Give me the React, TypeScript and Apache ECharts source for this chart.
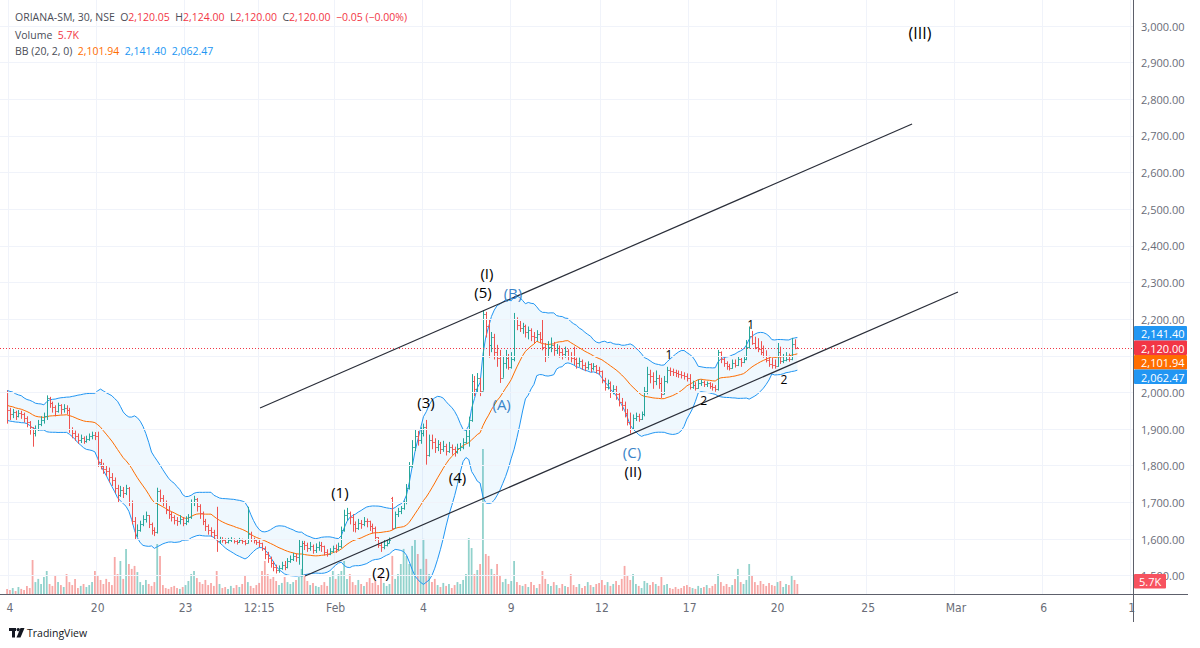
import { useEffect, useRef } from "react";
import * as echarts from "echarts";

// ---------- data ----------
const preCloses = [1990, 1978, 1995, 1982, 1975, 1992, 1985, 1980, 1988, 1978, 1950, 1940, 1955, 1945, 1935, 1948, 1942, 1950, 1938];

const closes = [
  1952, 1940, 1948, 1935, 1945, 1940, 1930, 1920, 1905, 1890,
  1900, 1915, 1925, 1935, 1985, 1970, 1960, 1950, 1965, 1955,
  1958, 1952, 1900, 1890, 1880, 1870, 1875, 1868, 1872, 1880,
  1885, 1880, 1810, 1800, 1790, 1785, 1770, 1760, 1740, 1720,
  1735, 1725, 1740, 1700, 1650, 1610, 1625, 1640, 1655, 1665,
  1640, 1625, 1618, 1730, 1712, 1700, 1680, 1668, 1660, 1652,
  1648, 1655, 1645, 1650, 1660, 1700, 1710, 1690, 1670, 1650,
  1635, 1625, 1618, 1610, 1595, 1600, 1598, 1592, 1596, 1600,
  1595, 1592, 1597, 1594, 1590, 1615, 1600, 1596, 1592, 1588,
  1575, 1560, 1548, 1535, 1525, 1515, 1520, 1530, 1525, 1540,
  1545, 1555, 1550, 1580, 1590, 1585, 1575, 1580, 1570, 1578,
  1585, 1580, 1565, 1560, 1568, 1575, 1572, 1580, 1625, 1665,
  1670, 1660, 1640, 1630, 1645, 1640, 1650, 1648, 1635, 1630,
  1605, 1585, 1578, 1585, 1590, 1598, 1630, 1668, 1676, 1685,
  1700, 1740, 1800, 1850, 1880, 1870, 1890, 1905, 1830, 1870,
  1865, 1850, 1860, 1845, 1855, 1840, 1850, 1845, 1838, 1848,
  1850, 1865, 1880, 1925, 2030, 2010, 2040, 2005, 2215, 2180,
  2130, 2150, 2110, 2095, 2040, 2080, 2095, 2070, 2090, 2200,
  2185, 2175, 2180, 2165, 2170, 2155, 2150, 2160, 2145, 2125,
  2100, 2125, 2130, 2115, 2120, 2110, 2105, 2112, 2100, 2095,
  2090, 2080, 2085, 2075, 2070, 2078, 2068, 2072, 2062, 2058,
  2035, 2015, 2025, 2000, 2010, 1995, 1975, 1965, 1945, 1920,
  1900, 1930, 1935, 1928, 1940, 2005, 2050, 2045, 2030, 2040,
  2025, 1995, 2030, 2060, 2058, 2055, 2052, 2050, 2048, 2045,
  2040, 2015, 2020, 2012, 2025, 2028, 2022, 2025, 2018, 2015,
  2010, 2110, 2090, 2080, 2072, 2068, 2080, 2075, 2090, 2082,
  2090, 2125, 2155, 2135, 2125, 2118, 2110, 2100, 2088, 2078,
  2075, 2072, 2110, 2085, 2088, 2092, 2090, 2132, 2120.05, 2120,
];

const highs = [
  2005, 1958, 1955, 1950, 1952, 1950, 1945, 1935, 1922, 1905,
  1910, 1925, 1935, 1945, 1992, 1988, 1975, 1965, 1972, 1968,
  1968, 1965, 1958, 1905, 1896, 1888, 1885, 1880, 1882, 1888,
  1893, 1892, 1893, 1818, 1808, 1800, 1795, 1780, 1768, 1748,
  1745, 1742, 1748, 1742, 1705, 1660, 1640, 1650, 1665, 1675,
  1662, 1645, 1632, 1740, 1735, 1720, 1705, 1690, 1675, 1665,
  1660, 1665, 1660, 1662, 1668, 1708, 1718, 1712, 1695, 1675,
  1655, 1640, 1632, 1625, 1688, 1606, 1605, 1602, 1603, 1605,
  1602, 1600, 1603, 1601, 1598, 1688, 1620, 1604, 1600, 1597,
  1590, 1580, 1565, 1552, 1540, 1530, 1528, 1538, 1540, 1548,
  1555, 1562, 1560, 1598, 1595, 1595, 1590, 1592, 1585, 1588,
  1593, 1592, 1582, 1572, 1575, 1582, 1585, 1590, 1634, 1680,
  1685, 1675, 1668, 1648, 1655, 1652, 1660, 1656, 1650, 1642,
  1634, 1600, 1592, 1598, 1600, 1604, 1715, 1675, 1685, 1690,
  1705, 1750, 1810, 1870, 1898, 1895, 1905, 1915, 1925, 1885,
  1885, 1875, 1870, 1865, 1868, 1860, 1865, 1858, 1852, 1860,
  1862, 1875, 1898, 1934, 2050, 2045, 2053, 2030, 2225, 2220,
  2200, 2165, 2160, 2130, 2116, 2100, 2116, 2105, 2110, 2217,
  2205, 2195, 2190, 2185, 2180, 2175, 2165, 2170, 2165, 2200,
  2135, 2140, 2150, 2138, 2132, 2128, 2120, 2125, 2118, 2110,
  2125, 2095, 2095, 2090, 2082, 2085, 2080, 2080, 2075, 2070,
  2060, 2040, 2035, 2030, 2020, 2018, 2000, 1985, 1975, 1955,
  1945, 1940, 1945, 1942, 1948, 2015, 2070, 2062, 2055, 2060,
  2048, 2040, 2045, 2070, 2068, 2065, 2062, 2060, 2058, 2055,
  2052, 2050, 2032, 2028, 2035, 2035, 2032, 2030, 2028, 2025,
  2020, 2116, 2112, 2095, 2085, 2078, 2090, 2090, 2097, 2094,
  2100, 2143, 2180, 2168, 2152, 2148, 2140, 2128, 2115, 2100,
  2095, 2090, 2135, 2125, 2105, 2110, 2106, 2149, 2145, 2124,
];

const lows = [
  1915, 1925, 1930, 1925, 1932, 1928, 1918, 1905, 1885, 1852,
  1880, 1895, 1908, 1915, 1925, 1958, 1945, 1935, 1945, 1940,
  1945, 1940, 1890, 1875, 1868, 1860, 1862, 1860, 1863, 1868,
  1872, 1870, 1797, 1790, 1778, 1772, 1755, 1745, 1725, 1700,
  1715, 1712, 1720, 1690, 1640, 1598, 1605, 1620, 1635, 1645,
  1630, 1612, 1608, 1615, 1700, 1690, 1668, 1655, 1648, 1640,
  1636, 1640, 1635, 1638, 1645, 1655, 1690, 1675, 1655, 1638,
  1622, 1612, 1606, 1600, 1565, 1588, 1590, 1586, 1588, 1592,
  1588, 1585, 1590, 1587, 1583, 1588, 1592, 1588, 1584, 1578,
  1568, 1545, 1535, 1522, 1512, 1506, 1508, 1516, 1515, 1520,
  1535, 1540, 1538, 1530, 1498, 1570, 1565, 1568, 1560, 1562,
  1568, 1565, 1555, 1552, 1556, 1562, 1562, 1568, 1575, 1620,
  1650, 1640, 1620, 1618, 1625, 1628, 1635, 1632, 1622, 1615,
  1595, 1576, 1565, 1572, 1580, 1588, 1625, 1630, 1660, 1668,
  1680, 1695, 1735, 1795, 1840, 1855, 1860, 1880, 1803, 1825,
  1845, 1835, 1840, 1832, 1838, 1828, 1835, 1830, 1825, 1833,
  1840, 1845, 1860, 1852, 1920, 1990, 2000, 1990, 2005, 2150,
  2095, 2110, 2090, 2070, 2026, 2040, 2065, 2062, 2065, 2085,
  2170, 2165, 2160, 2150, 2145, 2140, 2135, 2140, 2135, 2115,
  2083, 2095, 2110, 2100, 2105, 2095, 2090, 2095, 2088, 2082,
  2075, 2065, 2070, 2062, 2058, 2062, 2055, 2060, 2052, 2048,
  2025, 2005, 2008, 1985, 1995, 1980, 1962, 1950, 1932, 1910,
  1888, 1915, 1922, 1920, 1925, 1935, 1995, 2025, 2010, 2020,
  2010, 1985, 1995, 2025, 2045, 2045, 2042, 2040, 2038, 2035,
  2030, 2008, 2010, 2005, 2010, 2018, 2015, 2015, 2010, 2005,
  2002, 2005, 2080, 2070, 2062, 2060, 2065, 2068, 2072, 2070,
  2080, 2088, 2120, 2130, 2118, 2110, 2102, 2095, 2082, 2070,
  2065, 2065, 2070, 2078, 2080, 2085, 2084, 2088, 2118, 2120,
];

// bars whose open differs from the previous close (gaps)
const gapOpenIndex = [0, 136];
const gapOpenValue = [2000, 1712];

// volume in thousands
const volumesK = [
  2.9, 2.3, 3.4, 1.7, 4.0, 2.9, 2.3, 4.6, 3.4, 19.4,
  6.8, 8.6, 5.7, 9.7, 13.1, 5.7, 4.6, 10.3, 6.8, 5.1,
  4.0, 11.4, 6.8, 5.1, 8.6, 3.4, 4.6, 5.7, 4.0, 5.1,
  6.8, 13.1, 10.3, 8.0, 5.7, 8.6, 6.8, 5.1, 21.1, 11.4,
  18.8, 8.6, 25.7, 17.1, 14.3, 16.0, 12.5, 6.8, 5.1, 8.0,
  5.7, 4.6, 6.8, 28.5, 21.7, 5.1, 3.4, 2.9, 4.0, 4.6,
  3.4, 2.9, 4.0, 5.1, 7.4, 11.4, 13.1, 9.1, 6.8, 5.7,
  8.0, 5.1, 6.3, 4.6, 13.1, 5.7, 3.4, 4.0, 2.9, 4.6,
  3.4, 5.1, 4.0, 5.7, 10.8, 6.8, 4.6, 3.4, 5.1, 6.3,
  13.1, 18.8, 11.4, 8.6, 9.7, 7.4, 5.1, 6.3, 9.7, 6.8,
  5.7, 6.8, 8.0, 9.7, 14.3, 11.4, 7.4, 5.1, 6.3, 4.6,
  4.0, 5.1, 6.8, 4.6, 9.7, 13.1, 8.6, 11.4, 13.1, 18.8,
  8.6, 11.4, 6.8, 5.1, 8.0, 5.7, 4.6, 6.8, 9.1, 6.3,
  7.4, 5.1, 10.3, 6.3, 4.6, 5.7, 21.7, 8.6, 11.4, 17.1,
  25.7, 21.7, 17.1, 27.4, 31.4, 22.8, 14.3, 31.4, 20.0, 11.4,
  6.8, 8.6, 5.1, 4.0, 6.3, 4.6, 5.7, 3.4, 5.1, 6.8,
  5.7, 8.0, 11.4, 31.9, 26.2, 11.4, 13.7, 17.1, 82.7, 22.8,
  21.7, 14.3, 11.4, 17.1, 10.3, 6.8, 8.6, 5.7, 7.4, 18.8,
  6.8, 5.1, 4.6, 5.7, 4.0, 6.8, 5.1, 3.4, 5.7, 13.1,
  8.6, 5.7, 4.6, 6.8, 5.1, 3.4, 5.7, 4.6, 4.0, 11.4,
  5.1, 4.0, 5.7, 3.4, 4.6, 6.8, 5.1, 4.0, 5.7, 6.3,
  8.0, 5.1, 6.8, 4.6, 5.7, 7.4, 5.1, 8.6, 16.0, 10.3,
  8.0, 11.4, 5.7, 4.6, 3.4, 7.4, 6.3, 5.1, 6.8, 5.7,
  4.6, 9.7, 5.1, 5.7, 3.4, 2.9, 4.0, 2.9, 3.4, 4.6,
  5.1, 4.0, 3.4, 2.9, 4.6, 3.4, 4.0, 5.1, 3.4, 4.6,
  5.7, 11.4, 6.8, 4.6, 5.7, 4.0, 5.1, 8.6, 14.3, 6.8,
  5.7, 8.0, 17.1, 10.3, 6.8, 5.1, 7.4, 5.7, 4.6, 6.3,
  5.1, 4.6, 6.8, 7.4, 4.0, 5.7, 5.1, 10.3, 8.0, 5.7,
];

// time scale
const slotCount = 400;
const firstSlot = 2;
const tickSlots = [3, 34, 65, 91, 118, 149, 180, 212, 243, 274, 306, 337, 368, 399];
const tickLabels = ["4", "20", "23", "12:15", "Feb", "4", "9", "12", "17", "20", "25", "Mar", "6", "1"];

// price scale (2,100 sits under the price badges, as in the reference)
const priceTicks = [1500, 1600, 1700, 1800, 1900, 2000, 2100, 2200, 2300, 2400, 2500, 2600, 2700, 2800, 2900, 3000];
const hiddenPriceLabels = [2100];

// legend values
const symbolText = "ORIANA-SM, 30, NSE";
const ohlcText = ["2,120.05", "2,124.00", "2,120.00", "2,120.00"];
const changeText = "\u22120.05 (\u22120.00%)";
const bbParams = "BB (20, 2, 0)";
const bbLegend = ["2,101.94", "2,141.40", "2,062.47"];
const lastPriceText = "2,120.00";
const lastPrice = 2120;

// drawn annotations (slot, price)
const channelUpper = [[91.3, 1957.6], [321.5, 2732.6]];
const channelLower = [[107.2, 1499.1], [337.7, 2274.1]];

const waveText = ["(I)", "(5)", "(B)", "(3)", "(A)", "(4)", "(1)", "(2)", "(C)", "(II)", "(III)", "1", "1", "2", "2"];
const waveSlot = [171.4, 170.0, 180.6, 149.9, 176.6, 161.0, 119.5, 134.0, 222.6, 223.0, 324.3, 235.7, 264.5, 247.9, 276.3];
const wavePrice = [2326, 2274, 2271, 1974, 1968.5, 1769, 1729.7, 1508.7, 1837.5, 1785.7, 2980.9, 2104.9, 2185.4, 1976.7, 2036.7];
const waveKind = ["major", "major", "blue", "major", "blue", "major", "major", "major", "blue", "major", "major", "minor", "minor", "minor", "minor"];

// ---------- derived ----------
const GREEN = "#26a69a";
const RED = "#ef5350";

const opens = closes.map((c, i) => {
  const g = gapOpenIndex.indexOf(i);
  if (g >= 0) return gapOpenValue[g];
  return i === 0 ? c : closes[i - 1];
});

const ohlc = closes.map((c, i) => {
  const o = opens[i];
  const h = Math.max(highs[i], o, c);
  const l = Math.min(lows[i], o, c);
  return [i + firstSlot, o, h, l, c];
});

const fullCloses = preCloses.concat(closes);
const bbMid: number[][] = [];
const bbUp: number[][] = [];
const bbLo: number[][] = [];
closes.forEach((_, i) => {
  const w = fullCloses.slice(i, i + 20);
  const m = w.reduce((a, b) => a + b, 0) / w.length;
  const sd = Math.sqrt(w.reduce((a, b) => a + (b - m) * (b - m), 0) / w.length);
  const x = i + firstSlot;
  bbMid.push([x, m]);
  bbUp.push([x, m + 2 * sd]);
  bbLo.push([x, m - 2 * sd]);
});

const volumeData = volumesK.map((v, i) => ({
  value: [i + firstSlot, v],
  itemStyle: { color: closes[i] >= opens[i] ? "rgba(38,166,154,0.5)" : "rgba(239,83,80,0.5)" },
}));

const xCats = Array.from({ length: slotCount }, (_, i) => {
  const t = tickSlots.indexOf(i);
  return t >= 0 ? tickLabels[t] : "";
});

const FONT = '"Open Sans", "Noto Sans", sans-serif';
const NARROW = '"Liberation Sans Narrow", "DejaVu Sans Condensed", "Roboto Condensed", sans-serif';

const waveColor: Record<string, string> = { major: "#000000", blue: "#3a84c8", minor: "#000000" };
const waveSize: Record<string, number> = { major: 15, blue: 15, minor: 12 };

const waveData = waveText.map((t, i) => ({
  value: [waveSlot[i], wavePrice[i]],
  name: t,
  label: {
    show: true,
    position: "inside",
    formatter: t,
    color: waveColor[waveKind[i]],
    opacity: 1,
    textBorderWidth: 0,
    textBorderColor: "transparent",
    fontSize: t === "(III)" ? 16 : waveSize[waveKind[i]],
    fontFamily: FONT,
  },
}));

function buildOption() {
  const GRID_BOTTOM = 54;
  const badgeColors = ["#2196f3", "#f23645", "#ff6d00", "#2196f3"];
  const badgeTexts = [bbLegend[1], lastPriceText, bbLegend[0], bbLegend[2]];
  const badgeTops = [326, 340.5, 355, 369.5];
  const badges: any[] = [];
  badgeTexts.forEach((t, i) => {
    badges.push({
      type: "rect",
      shape: { x: 1134, y: badgeTops[i], width: 53, height: 14.5, r: 1 },
      style: { fill: badgeColors[i] },
      z: 100,
    });
    badges.push({
      type: "text",
      x: 1141,
      y: badgeTops[i] + 7.5,
      style: { text: t, fill: "#ffffff", font: `11px ${FONT}`, verticalAlign: "middle", align: "left" },
      z: 101,
    });
  });
  const volLabel = `${volumesK[volumesK.length - 1]}K`;
  const FS = 10.5;
  const rich = {
    g: { fill: "#4a4d57", fontSize: FS, fontFamily: FONT },
    r: { fill: "#f23645", fontSize: FS, fontFamily: FONT },
    o: { fill: "#ff6d00", fontSize: FS, fontFamily: FONT },
    b: { fill: "#2196f3", fontSize: FS, fontFamily: FONT },
  };

  return {
    animation: false,
    backgroundColor: "#ffffff",
    grid: { left: 0, right: 67, top: 0, bottom: GRID_BOTTOM, containLabel: false },
    xAxis: [
      {
        type: "category",
        data: xCats,
        boundaryGap: true,
        axisLine: { show: false },
        axisTick: { show: false },
        axisLabel: {
          interval: (_i: number, v: string) => v !== "",
          color: "#6a6d78",
          fontSize: 12,
          fontFamily: NARROW,
          margin: 8,
        },
        splitLine: {
          show: true,
          interval: (_i: number, v: string) => v !== "",
          lineStyle: { color: "#f0f3fa", width: 1 },
        },
      },
      { type: "value", min: -0.5, max: slotCount - 0.5, show: false },
    ],
    yAxis: [
      {
        type: "value",
        position: "right",
        min: 1450,
        max: 3071,
        interval: 50,
        axisLine: { show: false },
        axisTick: { show: false },
        splitLine: { show: false },
        axisLabel: {
          color: "#6a6d78",
          fontSize: 11,
          fontFamily: FONT,
          margin: 8,
          formatter: (v: number) =>
            priceTicks.indexOf(v) >= 0 && hiddenPriceLabels.indexOf(v) < 0
              ? v.toLocaleString("en-US", { minimumFractionDigits: 2, maximumFractionDigits: 2 })
              : "",
        },
      },
      { type: "value", min: 0, max: 594 * 0.57, show: false },
    ],
    series: [
      {
        type: "line",
        xAxisIndex: 1,
        yAxisIndex: 0,
        data: [],
        silent: true,
        z: 0,
        markLine: {
          silent: true,
          symbol: ["none", "none"],
          label: { show: false },
          lineStyle: { color: "#f0f3fa", type: "solid", width: 1 },
          data: priceTicks.map((p) => ({ yAxis: p })),
        },
      },
      {
        type: "bar",
        xAxisIndex: 1,
        yAxisIndex: 1,
        barWidth: 1.8,
        data: volumeData,
        silent: true,
        z: 1,
      },
      {
        type: "custom",
        xAxisIndex: 1,
        yAxisIndex: 0,
        silent: true,
        z: 2,
        data: [[bbUp[0][0], bbUp[0][1]]],
        renderItem: (_p: any, api: any) => {
          const pts: number[][] = [];
          bbUp.forEach((d) => pts.push(api.coord(d)));
          for (let i = bbLo.length - 1; i >= 0; i--) pts.push(api.coord(bbLo[i]));
          return { type: "polygon", shape: { points: pts }, style: { fill: "rgba(33,150,243,0.07)" } };
        },
      },
      {
        type: "line",
        xAxisIndex: 1,
        yAxisIndex: 0,
        data: bbUp,
        symbol: "none",
        silent: true,
        z: 3,
        lineStyle: { color: "#2196f3", width: 1 },
      },
      {
        type: "line",
        xAxisIndex: 1,
        yAxisIndex: 0,
        data: bbLo,
        symbol: "none",
        silent: true,
        z: 3,
        lineStyle: { color: "#2196f3", width: 1 },
      },
      {
        type: "line",
        xAxisIndex: 1,
        yAxisIndex: 0,
        data: bbMid,
        symbol: "none",
        silent: true,
        z: 3,
        lineStyle: { color: "#ff6d00", width: 1 },
      },
      {
        type: "custom",
        xAxisIndex: 1,
        yAxisIndex: 0,
        silent: true,
        z: 4,
        data: ohlc,
        encode: { x: 0, y: [1, 2, 3, 4] },
        renderItem: (_p: any, api: any) => {
          const x = api.value(0);
          const o = api.value(1);
          const h = api.value(2);
          const l = api.value(3);
          const c = api.value(4);
          const pH = api.coord([x, h]);
          const pL = api.coord([x, l]);
          const pO = api.coord([x, o]);
          const pC = api.coord([x, c]);
          const color = c >= o ? GREEN : RED;
          const px = Math.round(pH[0]) + 0.5;
          const yO = Math.round(pO[1]) + 0.5;
          const yC = Math.round(pC[1]) + 0.5;
          return {
            type: "group",
            children: [
              { type: "line", shape: { x1: px, y1: pH[1], x2: px, y2: pL[1] + 0.01 }, style: { stroke: color, lineWidth: 1 } },
              { type: "line", shape: { x1: px - 1.3, y1: yO, x2: px, y2: yO }, style: { stroke: color, lineWidth: 1 } },
              { type: "line", shape: { x1: px, y1: yC, x2: px + 1.3, y2: yC }, style: { stroke: color, lineWidth: 1 } },
            ],
          };
        },
        markLine: {
          silent: true,
          symbol: ["none", "none"],
          label: { show: false },
          lineStyle: { color: "#f23645", type: [1, 2], width: 1 },
          data: [{ yAxis: lastPrice }],
        },
      },
      {
        type: "line",
        xAxisIndex: 1,
        yAxisIndex: 0,
        data: channelUpper,
        symbol: "none",
        silent: true,
        z: 5,
        lineStyle: { color: "#2a2e39", width: 1.2 },
      },
      {
        type: "line",
        xAxisIndex: 1,
        yAxisIndex: 0,
        data: channelLower,
        symbol: "none",
        silent: true,
        z: 5,
        lineStyle: { color: "#2a2e39", width: 1.2 },
      },
      {
        type: "scatter",
        xAxisIndex: 1,
        yAxisIndex: 0,
        data: waveData,
        symbol: "circle",
        symbolSize: 0,
        itemStyle: { color: "#000000", opacity: 1 },
        silent: true,
        z: 6,
      },
    ],
    graphic: [
      {
        type: "text",
        x: 15,
        y: 17,
        z: 50,
        style: {
          text:
            `{g|${symbolText}  O}{r|${ohlcText[0]}}{g|  H}{r|${ohlcText[1]}}{g|  L}{r|${ohlcText[2]}}{g|  C}{r|${ohlcText[3]}}{r|  ${changeText}}`,
          verticalAlign: "middle",
          align: "left",
          font: `${FS}px ${FONT}`,
          rich,
        },
      },
      {
        type: "text",
        x: 15,
        y: 35,
        z: 50,
        style: {
          text: `{g|Volume}{r|  ${volLabel}}`,
          verticalAlign: "middle",
          align: "left",
          font: `${FS}px ${FONT}`,
          rich,
        },
      },
      {
        type: "text",
        x: 15,
        y: 51,
        z: 50,
        style: {
          text: `{g|${bbParams}}{o|  ${bbLegend[0]}}{b|  ${bbLegend[1]}}{b|  ${bbLegend[2]}}`,
          verticalAlign: "middle",
          align: "left",
          font: `${FS}px ${FONT}`,
          rich,
        },
      },
      ...badges,
      {
        type: "rect",
        shape: { x: 1134, y: 574, width: 32, height: 14.5, r: 1 },
        style: { fill: "#f7525f" },
        z: 100,
      },
      {
        type: "text",
        x: 1139,
        y: 581.5,
        style: { text: volLabel, fill: "#ffffff", font: `11px ${FONT}`, verticalAlign: "middle", align: "left" },
        z: 101,
      },
      {
        type: "line",
        shape: { x1: 0, y1: 594.5, x2: 1188, y2: 594.5 },
        style: { stroke: "#5d606b", lineWidth: 1 },
        z: 90,
      },
      {
        type: "line",
        shape: { x1: 1133.5, y1: 0, x2: 1133.5, y2: 622 },
        style: { stroke: "#5d606b", lineWidth: 1 },
        z: 90,
      },
      // TradingView logo
      { type: "rect", shape: { x: 9, y: 628, width: 7, height: 3 }, style: { fill: "#131722" }, z: 50 },
      { type: "rect", shape: { x: 12, y: 628, width: 3, height: 9.5 }, style: { fill: "#131722" }, z: 50 },
      { type: "circle", shape: { cx: 18.2, cy: 629.6, r: 1.7 }, style: { fill: "#131722" }, z: 50 },
      {
        type: "polygon",
        shape: { points: [[20.5, 628], [24.5, 628], [20.5, 637.5], [16.5, 637.5]] },
        style: { fill: "#131722" },
        z: 50,
      },
      {
        type: "text",
        x: 27,
        y: 633,
        style: { text: "TradingView", fill: "#131722", font: `500 10.5px ${FONT}`, verticalAlign: "middle", align: "left" },
        z: 50,
      },
    ],
  };
}

export default function App() {
  const ref = useRef<HTMLDivElement>(null);
  useEffect(() => {
    document.body.style.margin = "0";
    const chart = echarts.init(ref.current as HTMLDivElement, null, { renderer: "svg" });
    chart.setOption(buildOption() as any);
    return () => chart.dispose();
  }, []);
  return <div ref={ref} style={{ width: 1200, height: 648 }} />;
}
